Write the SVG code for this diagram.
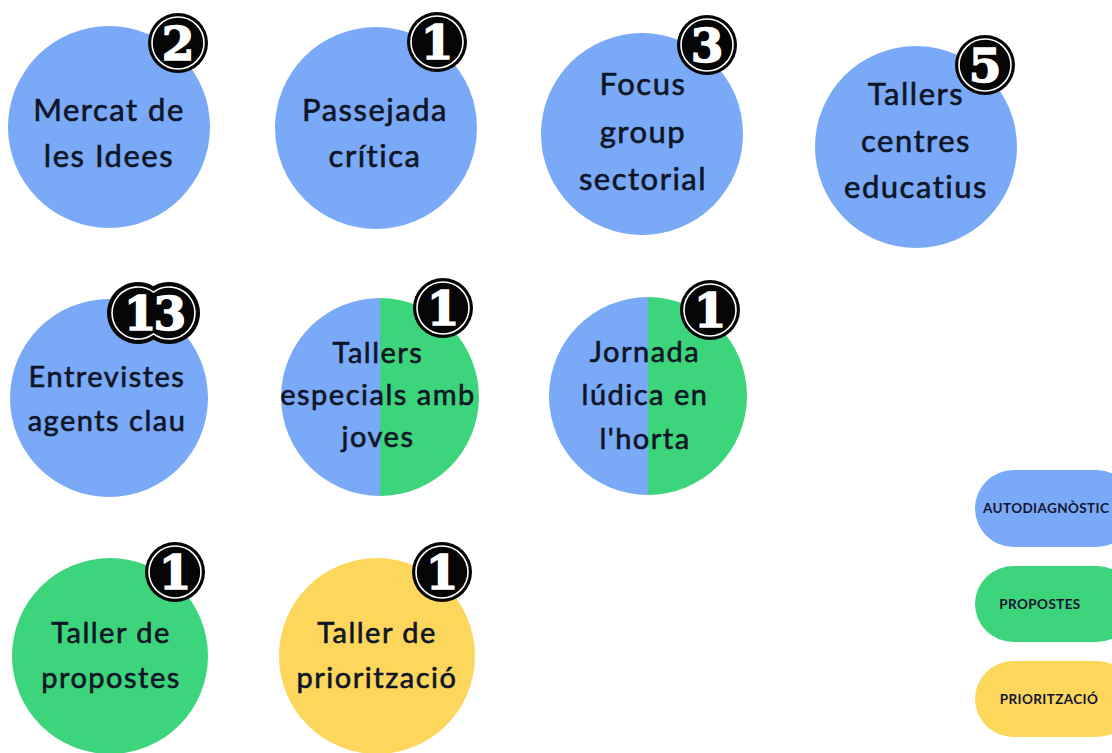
<svg xmlns="http://www.w3.org/2000/svg" width="1112" height="753" viewBox="0 0 1112 753">
<style>
.blue{fill:#79a9f7}.green{fill:#3dd57b}.yellow{fill:#fdd75c}
.lbl{font-family:Lato,"Open Sans","Liberation Sans",sans-serif;fill:#0e1526;stroke:#0e1526;stroke-width:0.6px;text-anchor:middle;letter-spacing:1.5px}
.l1{font-size:31px}.l2{font-size:29px}
.bd{fill:#050505}.ring{fill:none;stroke:#fff;stroke-width:1.6}
.num{font-family:"DejaVu Serif","Liberation Serif",serif;font-weight:bold;font-size:47px;fill:#fff;stroke:#fff;stroke-width:1.5px;text-anchor:middle}
.leg{font-family:Lato,"Liberation Sans",sans-serif;font-weight:bold;font-size:13.5px;fill:#14142e;letter-spacing:0.4px}
</style>
<rect width="1112" height="753" fill="#fff"/>

<g id="mercat">
<circle class="blue" cx="109" cy="127" r="101"/>
<text class="lbl l1" x="109" y="121">Mercat de</text>
<text class="lbl l1" x="109" y="167">les Idees</text>
<circle class="bd" cx="178" cy="43" r="30"/><circle class="ring" cx="178" cy="43" r="26"/>
<text class="num" x="178" y="60">2</text>
</g>

<g id="passejada">
<circle class="blue" cx="376" cy="128" r="101"/>
<text class="lbl l1" x="375" y="121">Passejada</text>
<text class="lbl l1" x="375" y="167">crítica</text>
<circle class="bd" cx="437" cy="42" r="30"/><circle class="ring" cx="437" cy="42" r="26"/>
<text class="num" x="437" y="59">1</text>
</g>

<g id="focus">
<circle class="blue" cx="642" cy="134" r="101"/>
<text class="lbl l1" x="643" y="95">Focus</text>
<text class="lbl l1" x="643" y="143">group</text>
<text class="lbl l1" x="643" y="190">sectorial</text>
<circle class="bd" cx="707" cy="45" r="30"/><circle class="ring" cx="707" cy="45" r="26"/>
<text class="num" x="707" y="62">3</text>
</g>

<g id="tallers-centres">
<circle class="blue" cx="916" cy="147" r="101"/>
<text class="lbl l1" x="916" y="105">Tallers</text>
<text class="lbl l1" x="916" y="152">centres</text>
<text class="lbl l1" x="916" y="198">educatius</text>
<circle class="bd" cx="985" cy="65" r="30"/><circle class="ring" cx="985" cy="65" r="26"/>
<text class="num" x="985" y="82">5</text>
</g>

<g id="entrevistes">
<circle class="blue" cx="109" cy="398" r="99"/>
<text class="lbl l2" x="107" y="387">Entrevistes</text>
<text class="lbl l2" x="107" y="431">agents clau</text>
<path class="bd" d="M153.5,286.15 A31,31 0 1,0 153.5,339.85 A31,31 0 1,0 153.5,286.15 Z"/>
<path class="ring" d="M153.5,292.1 A26,26 0 1,0 153.5,333.9 A26,26 0 1,0 153.5,292.1 Z"/>
<text class="num" x="153.5" y="330" letter-spacing="-3">13</text>
</g>

<g id="tallers-joves">
<path class="blue" d="M380,298 A99,99 0 0,0 380,496 Z"/>
<path class="green" d="M380,298 A99,99 0 0,1 380,496 Z"/>
<text class="lbl l2" x="378" y="363">Tallers</text>
<text class="lbl l2" x="378" y="405">especials amb</text>
<text class="lbl l2" x="378" y="447">joves</text>
<circle class="bd" cx="443" cy="308" r="30"/><circle class="ring" cx="443" cy="308" r="26"/>
<text class="num" x="443" y="325">1</text>
</g>

<g id="jornada">
<path class="blue" d="M648,297 A99,99 0 0,0 648,495 Z"/>
<path class="green" d="M648,297 A99,99 0 0,1 648,495 Z"/>
<text class="lbl l2" x="645" y="362">Jornada</text>
<text class="lbl l2" x="645" y="405">lúdica en</text>
<text class="lbl l2" x="645" y="449">l'horta</text>
<circle class="bd" cx="710" cy="310" r="30"/><circle class="ring" cx="710" cy="310" r="26"/>
<text class="num" x="710" y="327">1</text>
</g>

<g id="taller-propostes">
<circle class="green" cx="110" cy="656" r="98"/>
<text class="lbl l2" x="111" y="643">Taller de</text>
<text class="lbl l2" x="111" y="688">propostes</text>
<circle class="bd" cx="175" cy="572" r="30"/><circle class="ring" cx="175" cy="572" r="26"/>
<text class="num" x="175" y="589">1</text>
</g>

<g id="taller-prioritzacio">
<circle class="yellow" cx="377" cy="656" r="98"/>
<text class="lbl l2" x="377" y="643">Taller de</text>
<text class="lbl l2" x="377" y="688">priorització</text>
<circle class="bd" cx="442" cy="572" r="30"/><circle class="ring" cx="442" cy="572" r="26"/>
<text class="num" x="442" y="589">1</text>
</g>

<g id="legend-autodiagnostic">
<rect class="blue" x="975" y="470" width="160" height="77" rx="38.5"/>
<text class="leg" x="983" y="513">AUTODIAGNÒSTIC</text>
</g>
<g id="legend-propostes">
<rect class="green" x="975" y="566" width="160" height="76" rx="38"/>
<text class="leg" x="1040" y="609" text-anchor="middle">PROPOSTES</text>
</g>
<g id="legend-prioritzacio">
<rect class="yellow" x="975" y="661" width="160" height="76" rx="38"/>
<text class="leg" x="1049" y="704" text-anchor="middle">PRIORITZACIÓ</text>
</g>
</svg>
